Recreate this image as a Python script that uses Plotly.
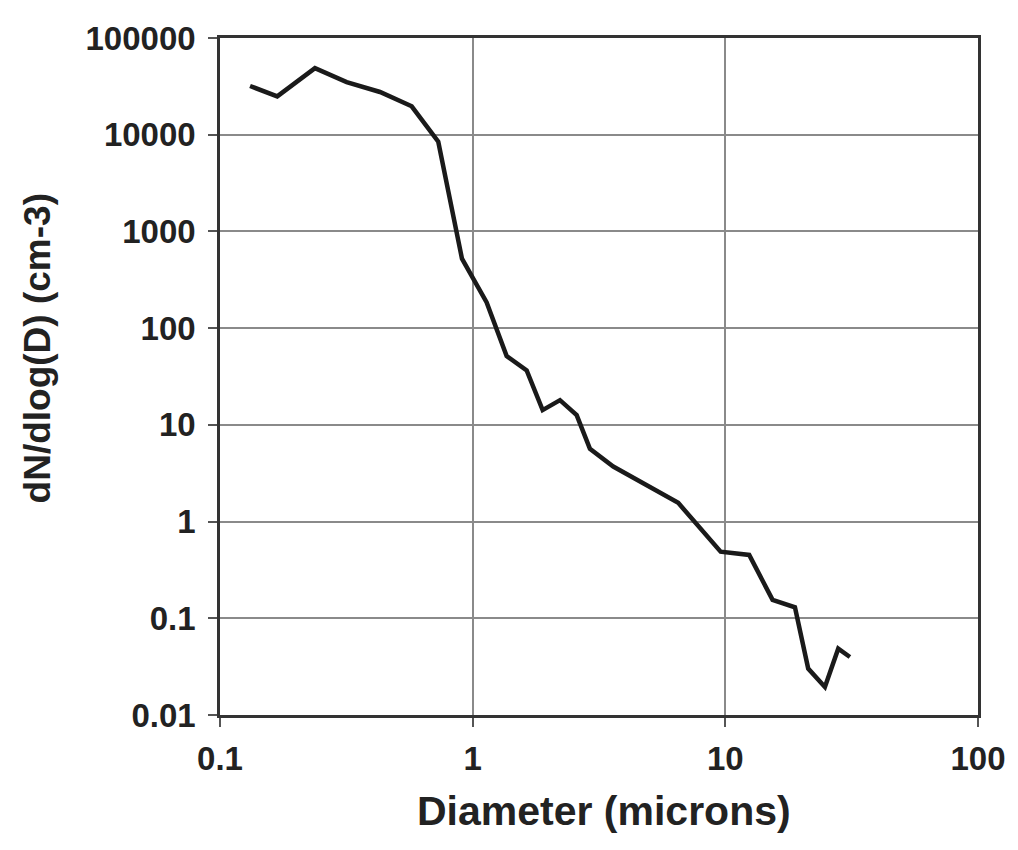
import plotly.graph_objects as go

diameter = [0.1315, 0.1685, 0.2376, 0.3172, 0.4297, 0.5737, 0.7309, 0.907, 1.136,
            1.363, 1.636, 1.892, 2.216, 2.58, 2.912, 3.601, 6.51, 9.58, 12.43,
            15.38, 18.86, 21.28, 24.78, 27.98, 31.12]
dndlogd = [31880, 24930, 48820, 35050, 27660, 19670, 8470, 523, 184.5,
           51.4, 36.6, 14.2, 18.0, 12.6, 5.65, 3.71, 1.56, 0.489, 0.452,
           0.155, 0.130, 0.0302, 0.0195, 0.0485, 0.0398]

x_tickvals = [0.1, 1, 10, 100]
x_ticktext = ["0.1", "1", "10", "100"]
y_tickvals = [0.01, 0.1, 1, 10, 100, 1000, 10000, 100000]
y_ticktext = ["0.01", "0.1", "1", "10", "100", "1000", "10000", "100000"]

x_title = "Diameter (microns)"
y_title = "dN/dlog(D) (cm-3)"

font_family = "Liberation Sans, Arial, sans-serif"
txt_color = "#222222"

fig = go.Figure()
fig.add_trace(go.Scatter(
    x=diameter, y=dndlogd, mode="lines",
    line=dict(color="#1a1a1a", width=4.5),
    showlegend=False,
))

fig.update_layout(
    width=1010, height=842,
    margin=dict(l=212, r=40, t=26, b=135),
    paper_bgcolor="white", plot_bgcolor="white",
    font=dict(family=font_family, color=txt_color),
    xaxis=dict(
        type="log", range=[-1, 2],
        tickvals=x_tickvals, ticktext=x_ticktext,
        tickfont=dict(size=33, family=font_family, color=txt_color, weight="bold"),
        showgrid=True, gridcolor="#8a8a8a", gridwidth=1.5,
        showline=True, linecolor="#333333", linewidth=2.5, mirror=True,
        ticks="outside", ticklen=9, tickcolor="#555555", tickwidth=1.5,
        ticklabelstandoff=4,
        zeroline=False,
    ),
    yaxis=dict(
        type="log", range=[-2, 5],
        tickvals=y_tickvals, ticktext=y_ticktext,
        tickfont=dict(size=33, family=font_family, color=txt_color, weight="bold"),
        showgrid=True, gridcolor="#8a8a8a", gridwidth=1.5,
        showline=True, linecolor="#333333", linewidth=2.5, mirror=True,
        ticks="outside", ticklen=9, tickcolor="#555555", tickwidth=1.5,
        ticklabelstandoff=6,
        zeroline=False,
    ),
    annotations=[
        dict(text=x_title, xref="paper", yref="paper", x=0.507, y=-0.142,
             xanchor="center", yanchor="middle", showarrow=False,
             font=dict(size=41, family=font_family, color=txt_color, weight="bold")),
        dict(text=y_title, xref="paper", yref="paper", x=-0.241, y=0.542,
             xanchor="center", yanchor="middle", showarrow=False, textangle=-90,
             font=dict(size=37, family=font_family, color=txt_color, weight="bold")),
    ],
)

fig.write_html("out.html")
